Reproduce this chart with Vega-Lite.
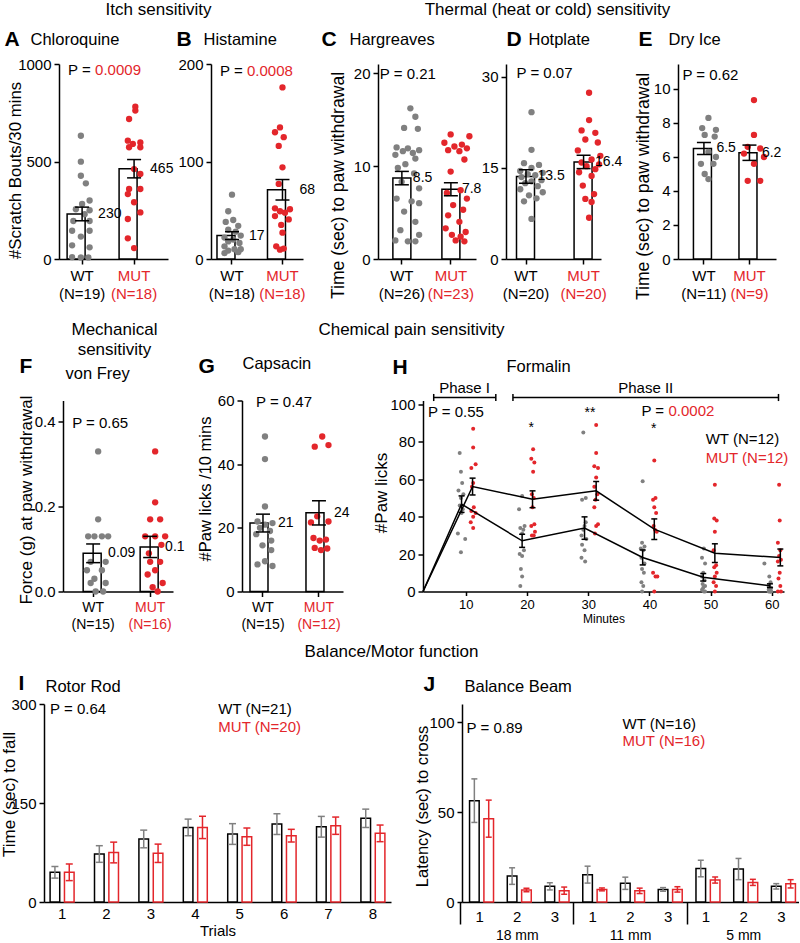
{
"$schema": "https://vega.github.io/schema/vega-lite/v6.json",
"background": "white",
"padding": 0,
"config": {
 "font": "Liberation Sans",
 "view": {"stroke": null},
 "axis": {"domainColor": "black", "domainWidth": 1.5, "tickColor": "black", "tickWidth": 1.5, "tickSize": 5, "labelColor": "black", "labelFontSize": 15, "titleFontSize": 17, "titleFontWeight": "normal", "titleColor": "black", "grid": false, "labelPadding": 3},
 "axisX": {"labelAngle": 0},
 "axisY": {"labelOverlap": false},
 "axisTop": {"labels": false, "ticks": false, "domain": false, "titleAngle": 0, "titleAlign": "left", "titleBaseline": "alphabetic", "titleFontSize": 16.5, "titlePadding": 0},
 "text": {"color": "black"}
},
"datasets": {
 "bars": [
  {"p":"A","g":"WT","mean":231,"sem":35,"lab":"230"},
  {"p":"A","g":"MUT","mean":463,"sem":47,"lab":"465"},
  {"p":"B","g":"WT","mean":24,"sem":4,"lab":"17"},
  {"p":"B","g":"MUT","mean":71,"sem":10.5,"lab":"68"},
  {"p":"C","g":"WT","mean":8.7,"sem":0.72,"lab":"8.5"},
  {"p":"C","g":"MUT","mean":7.5,"sem":0.7,"lab":"7.8"},
  {"p":"D","g":"WT","mean":13.6,"sem":1.1,"lab":"13.5"},
  {"p":"D","g":"MUT","mean":16.0,"sem":1.1,"lab":"16.4"},
  {"p":"E","g":"WT","mean":6.5,"sem":0.35,"lab":"6.5"},
  {"p":"E","g":"MUT","mean":6.25,"sem":0.45,"lab":"6.2"},
  {"p":"F","g":"WT","mean":0.09,"sem":0.022,"lab":"0.09"},
  {"p":"F","g":"MUT","mean":0.105,"sem":0.025,"lab":"0.1"},
  {"p":"G","g":"WT","mean":21.5,"sem":2.8,"lab":"21"},
  {"p":"G","g":"MUT","mean":24.7,"sem":3.8,"lab":"24"}
 ],
 "pts": [
  {"p":"A","g":"WT","v":632,"j":-0.1},{"p":"A","g":"WT","v":499,"j":-0.1},{"p":"A","g":"WT","v":427,"j":-0.1},{"p":"A","g":"WT","v":388,"j":0.3},{"p":"A","g":"WT","v":300,"j":0.6},{"p":"A","g":"WT","v":282,"j":0.0},{"p":"A","g":"WT","v":255,"j":-0.5},{"p":"A","g":"WT","v":250,"j":0.6},{"p":"A","g":"WT","v":230,"j":0.2},{"p":"A","g":"WT","v":195,"j":-0.7},{"p":"A","g":"WT","v":195,"j":0.6},{"p":"A","g":"WT","v":145,"j":-0.8},{"p":"A","g":"WT","v":145,"j":0.6},{"p":"A","g":"WT","v":115,"j":-0.1},{"p":"A","g":"WT","v":70,"j":-0.8},{"p":"A","g":"WT","v":60,"j":0.6},{"p":"A","g":"WT","v":10,"j":-0.8},{"p":"A","g":"WT","v":8,"j":-0.1},{"p":"A","g":"WT","v":8,"j":0.5},
  {"p":"A","g":"MUT","v":781,"j":0.1},{"p":"A","g":"MUT","v":761,"j":0.1},{"p":"A","g":"MUT","v":718,"j":-0.4},{"p":"A","g":"MUT","v":607,"j":-0.5},{"p":"A","g":"MUT","v":598,"j":0.5},{"p":"A","g":"MUT","v":590,"j":-0.1},{"p":"A","g":"MUT","v":573,"j":0.5},{"p":"A","g":"MUT","v":573,"j":-0.4},{"p":"A","g":"MUT","v":461,"j":0.0},{"p":"A","g":"MUT","v":436,"j":0.5},{"p":"A","g":"MUT","v":359,"j":0.5},{"p":"A","g":"MUT","v":359,"j":-0.4},{"p":"A","g":"MUT","v":333,"j":-0.5},{"p":"A","g":"MUT","v":291,"j":0.0},{"p":"A","g":"MUT","v":239,"j":0.5},{"p":"A","g":"MUT","v":205,"j":-0.5},{"p":"A","g":"MUT","v":106,"j":-0.5},{"p":"A","g":"MUT","v":56,"j":0.0},
  {"p":"B","g":"WT","v":66,"j":0},{"p":"B","g":"WT","v":49,"j":-0.3},{"p":"B","g":"WT","v":40,"j":0.1},{"p":"B","g":"WT","v":38,"j":-0.5},{"p":"B","g":"WT","v":34,"j":0.5},{"p":"B","g":"WT","v":30,"j":-0.3},{"p":"B","g":"WT","v":28,"j":0.3},{"p":"B","g":"WT","v":24,"j":0.7},{"p":"B","g":"WT","v":22,"j":-0.6},{"p":"B","g":"WT","v":20,"j":0.1},{"p":"B","g":"WT","v":18,"j":-0.3},{"p":"B","g":"WT","v":16.5,"j":0.6},{"p":"B","g":"WT","v":13,"j":-0.6},{"p":"B","g":"WT","v":10,"j":0.2},{"p":"B","g":"WT","v":8.6,"j":-0.3},{"p":"B","g":"WT","v":7,"j":0.5},{"p":"B","g":"WT","v":6,"j":-0.6},{"p":"B","g":"WT","v":10,"j":0.7},
  {"p":"B","g":"MUT","v":176,"j":0},{"p":"B","g":"MUT","v":135,"j":-0.2},{"p":"B","g":"MUT","v":130,"j":-0.6},{"p":"B","g":"MUT","v":125,"j":0.1},{"p":"B","g":"MUT","v":116,"j":-0.3},{"p":"B","g":"MUT","v":94,"j":0},{"p":"B","g":"MUT","v":77,"j":-0.3},{"p":"B","g":"MUT","v":52,"j":-0.6},{"p":"B","g":"MUT","v":51,"j":0.6},{"p":"B","g":"MUT","v":49,"j":-0.2},{"p":"B","g":"MUT","v":47.5,"j":0.2},{"p":"B","g":"MUT","v":44,"j":-0.6},{"p":"B","g":"MUT","v":40.6,"j":0.5},{"p":"B","g":"MUT","v":35,"j":-0.1},{"p":"B","g":"MUT","v":27,"j":0},{"p":"B","g":"MUT","v":13,"j":-0.5},{"p":"B","g":"MUT","v":10.7,"j":0.1},{"p":"B","g":"MUT","v":9.6,"j":-0.2},
  {"p":"C","g":"WT","v":16.2,"j":0.2},{"p":"C","g":"WT","v":15.3,"j":0.6},{"p":"C","g":"WT","v":14.1,"j":-0.3},{"p":"C","g":"WT","v":14.0,"j":0.8},{"p":"C","g":"WT","v":12.0,"j":-0.9},{"p":"C","g":"WT","v":11.9,"j":0.0},{"p":"C","g":"WT","v":11.7,"j":0.9},{"p":"C","g":"WT","v":11.6,"j":-0.4},{"p":"C","g":"WT","v":11.4,"j":0.4},{"p":"C","g":"WT","v":11.2,"j":-1.0},{"p":"C","g":"WT","v":10.8,"j":0.6},{"p":"C","g":"WT","v":10.2,"j":-0.2},{"p":"C","g":"WT","v":9.8,"j":-0.8},{"p":"C","g":"WT","v":9.2,"j":0.5},{"p":"C","g":"WT","v":8.3,"j":-0.5},{"p":"C","g":"WT","v":7.6,"j":0.9},{"p":"C","g":"WT","v":6.5,"j":-0.9},{"p":"C","g":"WT","v":6.2,"j":0.3},{"p":"C","g":"WT","v":6.0,"j":0.9},{"p":"C","g":"WT","v":5.1,"j":-0.3},{"p":"C","g":"WT","v":4.0,"j":0.6},{"p":"C","g":"WT","v":3.1,"j":-0.6},{"p":"C","g":"WT","v":2.6,"j":0.9},{"p":"C","g":"WT","v":2.0,"j":-1.0},{"p":"C","g":"WT","v":1.9,"j":0.0},{"p":"C","g":"WT","v":1.9,"j":0.6},
  {"p":"C","g":"MUT","v":13.4,"j":-0.5},{"p":"C","g":"MUT","v":13.2,"j":1.0},{"p":"C","g":"MUT","v":12.5,"j":-1.0},{"p":"C","g":"MUT","v":12.3,"j":0.4},{"p":"C","g":"MUT","v":12.1,"j":-0.2},{"p":"C","g":"MUT","v":11.9,"j":0.8},{"p":"C","g":"MUT","v":11.7,"j":-0.7},{"p":"C","g":"MUT","v":11.6,"j":0.2},{"p":"C","g":"MUT","v":10.7,"j":0.6},{"p":"C","g":"MUT","v":9.4,"j":-0.5},{"p":"C","g":"MUT","v":7.4,"j":0.3},{"p":"C","g":"MUT","v":7.1,"j":-0.8},{"p":"C","g":"MUT","v":6.5,"j":0.8},{"p":"C","g":"MUT","v":5.8,"j":-0.3},{"p":"C","g":"MUT","v":5.3,"j":0.5},{"p":"C","g":"MUT","v":4.7,"j":-0.7},{"p":"C","g":"MUT","v":4.0,"j":0.2},{"p":"C","g":"MUT","v":3.3,"j":-0.9},{"p":"C","g":"MUT","v":2.9,"j":0.7},{"p":"C","g":"MUT","v":2.6,"j":-0.4},{"p":"C","g":"MUT","v":2.4,"j":0.3},{"p":"C","g":"MUT","v":2.0,"j":-0.1},{"p":"C","g":"MUT","v":1.9,"j":0.6},
  {"p":"D","g":"WT","v":24.2,"j":0},{"p":"D","g":"WT","v":18.0,"j":0},{"p":"D","g":"WT","v":15.8,"j":-0.6},{"p":"D","g":"WT","v":15.5,"j":0.6},{"p":"D","g":"WT","v":15.0,"j":0},{"p":"D","g":"WT","v":14.5,"j":-0.9},{"p":"D","g":"WT","v":14.2,"j":0.9},{"p":"D","g":"WT","v":14.0,"j":-0.3},{"p":"D","g":"WT","v":13.8,"j":0.3},{"p":"D","g":"WT","v":13.5,"j":-0.8},{"p":"D","g":"WT","v":13.0,"j":0.8},{"p":"D","g":"WT","v":12.8,"j":0},{"p":"D","g":"WT","v":12.5,"j":-0.5},{"p":"D","g":"WT","v":12.0,"j":0.5},{"p":"D","g":"WT","v":11.5,"j":-0.9},{"p":"D","g":"WT","v":11.0,"j":0.9},{"p":"D","g":"WT","v":10.5,"j":-0.2},{"p":"D","g":"WT","v":10.0,"j":0.4},{"p":"D","g":"WT","v":9.5,"j":-0.6},{"p":"D","g":"WT","v":6.6,"j":0},
  {"p":"D","g":"MUT","v":27.4,"j":0},{"p":"D","g":"MUT","v":22.9,"j":0},{"p":"D","g":"MUT","v":21.2,"j":-0.6},{"p":"D","g":"MUT","v":20.8,"j":0.5},{"p":"D","g":"MUT","v":19.7,"j":-0.3},{"p":"D","g":"MUT","v":19.2,"j":0.7},{"p":"D","g":"MUT","v":17.9,"j":-0.9},{"p":"D","g":"MUT","v":17.0,"j":0.9},{"p":"D","g":"MUT","v":16.4,"j":0.2},{"p":"D","g":"MUT","v":15.9,"j":-0.6},{"p":"D","g":"MUT","v":15.6,"j":0.8},{"p":"D","g":"MUT","v":15.3,"j":-0.2},{"p":"D","g":"MUT","v":14.8,"j":0.5},{"p":"D","g":"MUT","v":14.3,"j":-0.8},{"p":"D","g":"MUT","v":13.7,"j":0.2},{"p":"D","g":"MUT","v":12.1,"j":-0.5},{"p":"D","g":"MUT","v":10.7,"j":0.4},{"p":"D","g":"MUT","v":9.9,"j":-0.3},{"p":"D","g":"MUT","v":9.4,"j":0.2},{"p":"D","g":"MUT","v":6.8,"j":0},
  {"p":"E","g":"WT","v":8.3,"j":0},{"p":"E","g":"WT","v":7.7,"j":-0.5},{"p":"E","g":"WT","v":7.6,"j":0.6},{"p":"E","g":"WT","v":7.3,"j":-0.3},{"p":"E","g":"WT","v":7.2,"j":0.5},{"p":"E","g":"WT","v":6.3,"j":0},{"p":"E","g":"WT","v":6.0,"j":0.6},{"p":"E","g":"WT","v":5.6,"j":-0.6},{"p":"E","g":"WT","v":5.6,"j":0.4},{"p":"E","g":"WT","v":5.0,"j":-0.3},{"p":"E","g":"WT","v":4.7,"j":0},
  {"p":"E","g":"MUT","v":9.35,"j":0},{"p":"E","g":"MUT","v":7.3,"j":0},{"p":"E","g":"MUT","v":6.6,"j":-0.5},{"p":"E","g":"MUT","v":6.5,"j":0.5},{"p":"E","g":"MUT","v":6.2,"j":-0.8},{"p":"E","g":"MUT","v":6.0,"j":0.8},{"p":"E","g":"MUT","v":5.6,"j":0},{"p":"E","g":"MUT","v":4.6,"j":-0.5},{"p":"E","g":"MUT","v":4.6,"j":0.5},
  {"p":"F","g":"WT","v":0.33,"j":0},{"p":"F","g":"WT","v":0.17,"j":0},{"p":"F","g":"WT","v":0.13,"j":-0.8},{"p":"F","g":"WT","v":0.13,"j":-0.3},{"p":"F","g":"WT","v":0.13,"j":0.3},{"p":"F","g":"WT","v":0.13,"j":0.8},{"p":"F","g":"WT","v":0.07,"j":-0.6},{"p":"F","g":"WT","v":0.07,"j":0.6},{"p":"F","g":"WT","v":0.05,"j":-0.9},{"p":"F","g":"WT","v":0.05,"j":0.3},{"p":"F","g":"WT","v":0.03,"j":-0.3},{"p":"F","g":"WT","v":0.02,"j":0.6},{"p":"F","g":"WT","v":0.02,"j":-0.6},{"p":"F","g":"WT","v":0.0,"j":-0.2},{"p":"F","g":"WT","v":0.0,"j":0.4},
  {"p":"F","g":"MUT","v":0.33,"j":0},{"p":"F","g":"MUT","v":0.21,"j":0},{"p":"F","g":"MUT","v":0.17,"j":-0.4},{"p":"F","g":"MUT","v":0.17,"j":0.4},{"p":"F","g":"MUT","v":0.13,"j":-0.8},{"p":"F","g":"MUT","v":0.13,"j":0},{"p":"F","g":"MUT","v":0.13,"j":0.8},{"p":"F","g":"MUT","v":0.11,"j":0.5},{"p":"F","g":"MUT","v":0.09,"j":-0.5},{"p":"F","g":"MUT","v":0.07,"j":-0.4},{"p":"F","g":"MUT","v":0.07,"j":0.4},{"p":"F","g":"MUT","v":0.05,"j":0},{"p":"F","g":"MUT","v":0.04,"j":-0.6},{"p":"F","g":"MUT","v":0.02,"j":0.6},{"p":"F","g":"MUT","v":0.01,"j":-0.2},{"p":"F","g":"MUT","v":0.0,"j":0.2},
  {"p":"G","g":"WT","v":48.7,"j":0},{"p":"G","g":"WT","v":41.6,"j":0},{"p":"G","g":"WT","v":26.7,"j":0},{"p":"G","g":"WT","v":22.0,"j":-0.6},{"p":"G","g":"WT","v":21.5,"j":0.6},{"p":"G","g":"WT","v":21.0,"j":0},{"p":"G","g":"WT","v":20.0,"j":-0.4},{"p":"G","g":"WT","v":19.0,"j":0.4},{"p":"G","g":"WT","v":18.0,"j":-0.7},{"p":"G","g":"WT","v":16.0,"j":0.5},{"p":"G","g":"WT","v":14.5,"j":-0.2},{"p":"G","g":"WT","v":13.0,"j":0.5},{"p":"G","g":"WT","v":9.5,"j":0},{"p":"G","g":"WT","v":8.5,"j":-0.6},{"p":"G","g":"WT","v":8.0,"j":0.6},
  {"p":"G","g":"MUT","v":48.7,"j":0.1},{"p":"G","g":"MUT","v":46.0,"j":0.6},{"p":"G","g":"MUT","v":45.5,"j":-0.5},{"p":"G","g":"MUT","v":23.6,"j":-0.3},{"p":"G","g":"MUT","v":22.0,"j":0.6},{"p":"G","g":"MUT","v":21.7,"j":-0.8},{"p":"G","g":"MUT","v":16.8,"j":-0.6},{"p":"G","g":"MUT","v":16.3,"j":0.4},{"p":"G","g":"MUT","v":16.0,"j":-0.1},{"p":"G","g":"MUT","v":13.7,"j":-0.5},{"p":"G","g":"MUT","v":13.5,"j":0.5},{"p":"G","g":"MUT","v":13.0,"j":0}
 ],
 "hpts": [
  {"g":"WT","v":74,"m":9.0},{"g":"WT","v":64,"m":9.2},{"g":"WT","v":58,"m":9.4},{"g":"WT","v":54,"m":8.8},{"g":"WT","v":52,"m":9.6},{"g":"WT","v":50,"m":9.2},{"g":"WT","v":46,"m":9.0},{"g":"WT","v":44,"m":9.5},{"g":"WT","v":42,"m":9.3},{"g":"WT","v":31,"m":8.7},{"g":"WT","v":28,"m":9.9},{"g":"WT","v":21,"m":9.2},
  {"g":"MUT","v":87,"m":11.2},{"g":"MUT","v":77,"m":11.2},{"g":"MUT","v":68,"m":11.6},{"g":"MUT","v":66,"m":10.9},{"g":"MUT","v":58,"m":11.2},{"g":"MUT","v":56,"m":11.0},{"g":"MUT","v":45,"m":11.3},{"g":"MUT","v":43,"m":10.9},{"g":"MUT","v":42,"m":11.6},{"g":"MUT","v":40,"m":11.2},{"g":"MUT","v":37,"m":10.8},{"g":"MUT","v":34,"m":11.2},
  {"g":"WT","v":51,"m":19.2},{"g":"WT","v":44,"m":18.7},{"g":"WT","v":35,"m":19.6},{"g":"WT","v":34,"m":18.9},{"g":"WT","v":33,"m":19.4},{"g":"WT","v":31,"m":19.2},{"g":"WT","v":22,"m":19.5},{"g":"WT","v":20,"m":18.8},{"g":"WT","v":19,"m":19.2},{"g":"WT","v":12,"m":19.0},{"g":"WT","v":8,"m":19.2},{"g":"WT","v":3,"m":18.9},
  {"g":"MUT","v":76,"m":21.0},{"g":"MUT","v":71,"m":20.7},{"g":"MUT","v":69,"m":21.2},{"g":"MUT","v":64,"m":21.0},{"g":"MUT","v":52,"m":20.8},{"g":"MUT","v":50,"m":21.1},{"g":"MUT","v":45,"m":20.9},{"g":"MUT","v":36,"m":21.2},{"g":"MUT","v":35,"m":20.7},{"g":"MUT","v":32,"m":21.3},{"g":"MUT","v":30,"m":20.8},{"g":"MUT","v":30,"m":21.1},
  {"g":"WT","v":85,"m":29.2},{"g":"WT","v":50,"m":29.6},{"g":"WT","v":49,"m":29.0},{"g":"WT","v":37,"m":29.6},{"g":"WT","v":35,"m":29.4},{"g":"WT","v":33,"m":29.2},{"g":"WT","v":30,"m":28.9},{"g":"WT","v":28,"m":29.7},{"g":"WT","v":25,"m":29.0},{"g":"WT","v":22,"m":29.4},{"g":"WT","v":18,"m":28.9},{"g":"WT","v":16,"m":29.5},
  {"g":"MUT","v":89,"m":31.3},{"g":"MUT","v":74,"m":31.3},{"g":"MUT","v":67,"m":31.0},{"g":"MUT","v":66,"m":31.6},{"g":"MUT","v":61,"m":31.3},{"g":"MUT","v":56,"m":31.0},{"g":"MUT","v":52,"m":31.5},{"g":"MUT","v":49,"m":31.2},{"g":"MUT","v":45,"m":31.0},{"g":"MUT","v":36,"m":31.6},{"g":"MUT","v":35,"m":31.3},{"g":"MUT","v":31,"m":31.1},
  {"g":"WT","v":59,"m":38.9},{"g":"WT","v":26,"m":38.8},{"g":"WT","v":24,"m":39.2},{"g":"WT","v":23,"m":38.6},{"g":"WT","v":22,"m":39.0},{"g":"WT","v":18,"m":38.7},{"g":"WT","v":15,"m":39.2},{"g":"WT","v":12,"m":38.8},{"g":"WT","v":10,"m":39.1},{"g":"WT","v":5,"m":38.7},{"g":"WT","v":3,"m":39.0},{"g":"WT","v":0,"m":38.8},
  {"g":"MUT","v":70,"m":40.8},{"g":"MUT","v":50,"m":41.0},{"g":"MUT","v":49,"m":40.6},{"g":"MUT","v":45,"m":40.8},{"g":"MUT","v":42,"m":41.1},{"g":"MUT","v":35,"m":40.7},{"g":"MUT","v":33,"m":40.9},{"g":"MUT","v":32,"m":41.2},{"g":"MUT","v":10,"m":40.6},{"g":"MUT","v":8,"m":41.0},{"g":"MUT","v":8,"m":41.3},{"g":"MUT","v":0,"m":40.8},
  {"g":"WT","v":23,"m":48.9},{"g":"WT","v":18,"m":48.6},{"g":"WT","v":15,"m":49.1},{"g":"WT","v":10,"m":48.8},{"g":"WT","v":8,"m":48.6},{"g":"WT","v":6,"m":49.0},{"g":"WT","v":4,"m":48.7},{"g":"WT","v":3,"m":49.1},{"g":"WT","v":2,"m":48.8},{"g":"WT","v":1,"m":48.6},{"g":"WT","v":0,"m":48.9},{"g":"WT","v":0,"m":49.1},
  {"g":"MUT","v":57,"m":50.7},{"g":"MUT","v":39,"m":50.6},{"g":"MUT","v":38,"m":51.0},{"g":"MUT","v":32,"m":50.7},{"g":"MUT","v":22,"m":50.5},{"g":"MUT","v":14,"m":50.9},{"g":"MUT","v":13,"m":50.6},{"g":"MUT","v":10,"m":51.0},{"g":"MUT","v":8,"m":50.7},{"g":"MUT","v":5,"m":50.5},{"g":"MUT","v":3,"m":50.9},{"g":"MUT","v":0,"m":50.7},
  {"g":"WT","v":15,"m":58.8},{"g":"WT","v":8,"m":59.6},{"g":"WT","v":5,"m":59.8},{"g":"WT","v":3,"m":59.5},{"g":"WT","v":2,"m":59.9},{"g":"WT","v":2,"m":59.6},{"g":"WT","v":1,"m":59.8},{"g":"WT","v":1,"m":59.5},{"g":"WT","v":0,"m":59.7},{"g":"WT","v":0,"m":59.9},{"g":"WT","v":0,"m":59.5},{"g":"WT","v":0,"m":59.8},
  {"g":"MUT","v":57,"m":61.2},{"g":"MUT","v":38,"m":61.3},{"g":"MUT","v":26,"m":61.0},{"g":"MUT","v":22,"m":61.4},{"g":"MUT","v":19,"m":61.2},{"g":"MUT","v":17,"m":61.5},{"g":"MUT","v":16,"m":61.0},{"g":"MUT","v":10,"m":61.3},{"g":"MUT","v":7,"m":61.1},{"g":"MUT","v":3,"m":61.4},{"g":"MUT","v":0,"m":61.0},{"g":"MUT","v":0,"m":61.5}
 ],
 "hm": [
  {"g":"WT","m":3,"mean":0,"sem":null},{"g":"WT","m":9.3,"mean":46.7,"sem":4.4},{"g":"WT","m":19.2,"mean":27.1,"sem":3.5},{"g":"WT","m":29.4,"mean":33.9,"sem":6},{"g":"WT","m":38.9,"mean":18.2,"sem":4},{"g":"WT","m":48.8,"mean":7.6,"sem":2},{"g":"WT","m":59.7,"mean":3.1,"sem":1},
  {"g":"MUT","m":3,"mean":0,"sem":null},{"g":"MUT","m":11.1,"mean":56.1,"sem":4.5},{"g":"MUT","m":20.9,"mean":49.3,"sem":4.5},{"g":"MUT","m":31.3,"mean":53.8,"sem":5},{"g":"MUT","m":40.8,"mean":33.3,"sem":5.5},{"g":"MUT","m":50.7,"mean":20.5,"sem":5},{"g":"MUT","m":61.4,"mean":18.2,"sem":4.5}
 ],
 "ibars": [
  {"t":"1","g":"WT","mean":45,"sem":8.8},{"t":"1","g":"MUT","mean":45,"sem":12.6},
  {"t":"2","g":"WT","mean":72.7,"sem":12.6},{"t":"2","g":"MUT","mean":75,"sem":15.7},
  {"t":"3","g":"WT","mean":95.5,"sem":13.4},{"t":"3","g":"MUT","mean":73.8,"sem":13.9},
  {"t":"4","g":"WT","mean":113,"sem":12.6},{"t":"4","g":"MUT","mean":113,"sem":16.9},
  {"t":"5","g":"WT","mean":103,"sem":15.7},{"t":"5","g":"MUT","mean":99,"sem":13.1},
  {"t":"6","g":"WT","mean":118,"sem":15.7},{"t":"6","g":"MUT","mean":100.5,"sem":9.6},
  {"t":"7","g":"WT","mean":114,"sem":15.7},{"t":"7","g":"MUT","mean":115.6,"sem":13.1},
  {"t":"8","g":"WT","mean":126.8,"sem":13.9},{"t":"8","g":"MUT","mean":104,"sem":12.6}
 ],
 "jbars": [
  {"k":"18 mm|1","g":"WT","mean":56.3,"sem":12.1},{"k":"18 mm|1","g":"MUT","mean":46.3,"sem":10.3},
  {"k":"18 mm|2","g":"WT","mean":14.4,"sem":4.6},{"k":"18 mm|2","g":"MUT","mean":6.7,"sem":1},
  {"k":"18 mm|3","g":"WT","mean":8.7,"sem":2},{"k":"18 mm|3","g":"MUT","mean":6.3,"sem":2},
  {"k":"11 mm|1","g":"WT","mean":15.2,"sem":4.7},{"k":"11 mm|1","g":"MUT","mean":7.0,"sem":0.8},
  {"k":"11 mm|2","g":"WT","mean":10.4,"sem":3.4},{"k":"11 mm|2","g":"MUT","mean":6.2,"sem":1.5},
  {"k":"11 mm|3","g":"WT","mean":7.0,"sem":1},{"k":"11 mm|3","g":"MUT","mean":7.0,"sem":1.5},
  {"k":"5 mm|1","g":"WT","mean":18.6,"sem":4.6},{"k":"5 mm|1","g":"MUT","mean":12.2,"sem":1.7},
  {"k":"5 mm|2","g":"WT","mean":18.3,"sem":5.9},{"k":"5 mm|2","g":"MUT","mean":10.9,"sem":1.7},
  {"k":"5 mm|3","g":"WT","mean":8.7,"sem":1.5},{"k":"5 mm|3","g":"MUT","mean":10.1,"sem":2.3}
 ]
},
"spacing": 10,
"vconcat": [
 {"spacing": 18.5, "vconcat": [
  {"bounds": "flush", "spacing": 0, "hconcat": [
   {"width": 15, "height": 1, "data": {"values": []}, "mark": "point"},
   {"width": 109, "height": 195, "resolve": {"axis": {"x": "independent"}},
    "layer": [
     {"data": {"name": "bars"}, "transform": [{"filter": "datum.p == 'A'"}],
      "mark": {"type": "bar", "fill": "white", "stroke": "black", "strokeWidth": 1.5},
      "encoding": {
       "x": {"field": "g", "type": "nominal", "scale": {"domain": ["WT","MUT"], "paddingInner": 0.423, "paddingOuter": 0.26, "align": 0.3},
             "axis": {"orient": "bottom", "title": null, "labelPadding": 4, "labelLineHeight": 18, "labelExpr": "datum.value == 'WT' ? ['WT', '(N=19)'] : ['MUT', '(N=18)']", "labelColor": {"condition": {"test": "datum.value == 'MUT'", "value": "#e3262b"}, "value": "black"}}},
       "y": {"field": "mean", "type": "quantitative", "title": "#Scratch Bouts/30 mins", "scale": {"domain": [0, 1000]},
             "axis": {"values": [0, 500, 1000], "format": "d", "labelOverlap": false, "titleFontSize": 16.8, "titleX": -44, "titleY": 106, "titleBaseline": "middle"}}}},
     {"data": {"name": "pts"}, "transform": [{"filter": "datum.p == 'A'"}],
      "mark": {"type": "circle", "size": 40, "opacity": 1},
      "encoding": {"x": {"field": "g", "type": "nominal", "axis": {"orient": "top", "title": "A", "titleX": -55, "titleY": -19, "titleFontSize": 21, "titleFontWeight": "bold"}},
       "xOffset": {"field": "j", "type": "quantitative", "scale": {"domain": [-1.2, 1.2]}},
       "y": {"field": "v", "type": "quantitative", "title": "#Scratch Bouts/30 mins"},
       "color": {"field": "g", "type": "nominal", "scale": {"domain": ["WT","MUT"], "range": ["#808080", "#e3262b"]}, "legend": null}}},
     {"data": {"name": "bars"}, "transform": [{"filter": "datum.p == 'A'"}],
      "mark": {"type": "errorbar", "ticks": true, "size": 14, "thickness": 1.5, "color": "black", "opacity": 1},
      "encoding": {"x": {"field": "g", "type": "nominal", "axis": {"orient": "top", "title": "Chloroquine", "titleX": -29, "titleY": -20}},
       "y": {"field": "mean", "type": "quantitative", "title": "#Scratch Bouts/30 mins"}, "yError": {"field": "sem"}}},
     {"data": {"name": "bars"}, "transform": [{"filter": "datum.p == 'A'"}],
      "mark": {"type": "text", "align": "left", "baseline": "middle", "dx": 1, "fontSize": 14},
      "encoding": {"x": {"field": "g", "type": "nominal", "bandPosition": 1, "axis": {"orient": "top", "title": "Itch sensitivity", "titleX": 99, "titleY": -49.5, "titleAlign": "center", "titleFontSize": 17}},
       "y": {"field": "mean", "type": "quantitative", "title": "#Scratch Bouts/30 mins"}, "text": {"field": "lab"}}},
     {"data": {"values": [{"g": "WT"}]}, "mark": {"type": "text", "align": "left", "baseline": "middle", "dx": 1, "fontSize": 15},
      "encoding": {"x": {"field": "g", "type": "nominal", "bandPosition": 0, "axis": null}, "y": {"datum": 967, "type": "quantitative", "title": "#Scratch Bouts/30 mins"}, "text": {"value": "P = "}}},
     {"data": {"values": [{"g": "WT"}]}, "mark": {"type": "text", "align": "left", "baseline": "middle", "dx": 28, "fontSize": 15, "color": "#e3262b"},
      "encoding": {"x": {"field": "g", "type": "nominal", "bandPosition": 0, "axis": null}, "y": {"datum": 967, "type": "quantitative", "title": "#Scratch Bouts/30 mins"}, "text": {"value": "0.0009"}}}
    ]},
   {"width": 43, "height": 1, "data": {"values": []}, "mark": "point"},
   {"width": 92, "height": 195, "resolve": {"axis": {"x": "independent"}},
    "layer": [
     {"data": {"name": "bars"}, "transform": [{"filter": "datum.p == 'B'"}],
      "mark": {"type": "bar", "fill": "white", "stroke": "black", "strokeWidth": 1.5},
      "encoding": {
       "x": {"field": "g", "type": "nominal", "scale": {"domain": ["WT","MUT"], "paddingInner": 0.406, "paddingOuter": 0.114, "align": 0.52},
             "axis": {"orient": "bottom", "title": null, "labelPadding": 4, "labelLineHeight": 18, "labelExpr": "datum.value == 'WT' ? ['WT', '(N=18)'] : ['MUT', '(N=18)']", "labelColor": {"condition": {"test": "datum.value == 'MUT'", "value": "#e3262b"}, "value": "black"}}},
       "y": {"field": "mean", "type": "quantitative", "title": null, "scale": {"domain": [0, 200]}, "axis": {"values": [0, 100, 200], "labelOverlap": false}}}},
     {"data": {"name": "pts"}, "transform": [{"filter": "datum.p == 'B'"}],
      "mark": {"type": "circle", "size": 40, "opacity": 1},
      "encoding": {"x": {"field": "g", "type": "nominal", "axis": {"orient": "top", "title": "B", "titleX": -35, "titleY": -19, "titleFontSize": 21, "titleFontWeight": "bold"}},
       "xOffset": {"field": "j", "type": "quantitative", "scale": {"domain": [-1.2, 1.2]}},
       "y": {"field": "v", "type": "quantitative", "title": null},
       "color": {"field": "g", "type": "nominal", "scale": {"domain": ["WT","MUT"], "range": ["#808080", "#e3262b"]}, "legend": null}}},
     {"data": {"name": "bars"}, "transform": [{"filter": "datum.p == 'B'"}],
      "mark": {"type": "errorbar", "ticks": true, "size": 14, "thickness": 1.5, "color": "black", "opacity": 1},
      "encoding": {"x": {"field": "g", "type": "nominal", "axis": {"orient": "top", "title": "Histamine", "titleX": -8, "titleY": -20}},
       "y": {"field": "mean", "type": "quantitative", "title": null}, "yError": {"field": "sem"}}},
     {"data": {"name": "bars"}, "transform": [{"filter": "datum.p == 'B'"}],
      "mark": {"type": "text", "align": "left", "baseline": "middle", "dx": 2, "fontSize": 14},
      "encoding": {"x": {"field": "g", "type": "nominal", "bandPosition": 1, "axis": null},
       "y": {"field": "mean", "type": "quantitative", "title": null}, "text": {"field": "lab"}}},
     {"data": {"values": [{"g": "WT"}]}, "mark": {"type": "text", "align": "left", "baseline": "middle", "dx": 3, "fontSize": 15},
      "encoding": {"x": {"field": "g", "type": "nominal", "bandPosition": 0, "axis": null}, "y": {"datum": 192.8, "type": "quantitative", "title": null}, "text": {"value": "P = "}}},
     {"data": {"values": [{"g": "WT"}]}, "mark": {"type": "text", "align": "left", "baseline": "middle", "dx": 30, "fontSize": 15, "color": "#e3262b"},
      "encoding": {"x": {"field": "g", "type": "nominal", "bandPosition": 0, "axis": null}, "y": {"datum": 192.8, "type": "quantitative", "title": null}, "text": {"value": "0.0008"}}}
    ]},
   {"width": 75, "height": 1, "data": {"values": []}, "mark": "point"},
   {"width": 98, "height": 195, "resolve": {"axis": {"x": "independent"}},
    "layer": [
     {"data": {"name": "bars"}, "transform": [{"filter": "datum.p == 'C'"}],
      "mark": {"type": "bar", "fill": "white", "stroke": "black", "strokeWidth": 1.5},
      "encoding": {
       "x": {"field": "g", "type": "nominal", "scale": {"domain": ["WT","MUT"], "paddingInner": 0.633, "paddingOuter": 0.316, "align": 0.48},
             "axis": {"orient": "bottom", "title": null, "labelPadding": 4, "labelLineHeight": 18, "labelExpr": "datum.value == 'WT' ? ['WT', '(N=26)'] : ['MUT', '(N=23)']", "labelColor": {"condition": {"test": "datum.value == 'MUT'", "value": "#e3262b"}, "value": "black"}}},
       "y": {"field": "mean", "type": "quantitative", "title": "Time (sec) to paw withdrawal", "scale": {"domain": [0, 20.97]},
             "axis": {"values": [0, 10, 20], "labelOverlap": false, "titleFontSize": 17.6, "titleX": -40, "titleY": 121, "titleBaseline": "middle"}}}},
     {"data": {"name": "pts"}, "transform": [{"filter": "datum.p == 'C'"}],
      "mark": {"type": "circle", "size": 40, "opacity": 1},
      "encoding": {"x": {"field": "g", "type": "nominal", "axis": {"orient": "top", "title": "C", "titleX": -57, "titleY": -19, "titleFontSize": 21, "titleFontWeight": "bold"}},
       "xOffset": {"field": "j", "type": "quantitative", "scale": {"domain": [-0.75, 0.75]}},
       "y": {"field": "v", "type": "quantitative", "title": "Time (sec) to paw withdrawal", "scale": {"domain": [0, 20.97]},
             "axis": {"values": [0, 10, 20], "labelOverlap": false, "titleFontSize": 17.6, "titleX": -40, "titleY": 121, "titleBaseline": "middle"}},
       "color": {"field": "g", "type": "nominal", "scale": {"domain": ["WT","MUT"], "range": ["#808080", "#e3262b"]}, "legend": null}}},
     {"data": {"name": "bars"}, "transform": [{"filter": "datum.p == 'C'"}],
      "mark": {"type": "errorbar", "ticks": true, "size": 14, "thickness": 1.5, "color": "black", "opacity": 1},
      "encoding": {"x": {"field": "g", "type": "nominal", "axis": {"orient": "top", "title": "Hargreaves", "titleX": -29, "titleY": -20}},
       "y": {"field": "mean", "type": "quantitative", "title": "Time (sec) to paw withdrawal", "scale": {"domain": [0, 20.97]},
             "axis": {"values": [0, 10, 20], "labelOverlap": false, "titleFontSize": 17.6, "titleX": -40, "titleY": 121, "titleBaseline": "middle"}}, "yError": {"field": "sem"}}},
     {"data": {"name": "bars"}, "transform": [{"filter": "datum.p == 'C'"}],
      "mark": {"type": "text", "align": "left", "baseline": "middle", "dx": 2, "fontSize": 14},
      "encoding": {"x": {"field": "g", "type": "nominal", "bandPosition": 1, "axis": {"orient": "top", "title": "Thermal (heat or cold) sensitivity", "titleX": 169, "titleY": -49.5, "titleAlign": "center", "titleFontSize": 17}},
       "y": {"field": "mean", "type": "quantitative", "title": "Time (sec) to paw withdrawal", "scale": {"domain": [0, 20.97]},
             "axis": {"values": [0, 10, 20], "labelOverlap": false, "titleFontSize": 17.6, "titleX": -40, "titleY": 121, "titleBaseline": "middle"}}, "text": {"field": "lab"}}},
     {"data": {"values": [{"g": "WT"}]}, "mark": {"type": "text", "align": "left", "baseline": "middle", "dx": -13, "fontSize": 15},
      "encoding": {"x": {"field": "g", "type": "nominal", "bandPosition": 0, "axis": null}, "y": {"datum": 19.85, "type": "quantitative", "title": "Time (sec) to paw withdrawal", "scale": {"domain": [0, 20.97]},
             "axis": {"values": [0, 10, 20], "labelOverlap": false, "titleFontSize": 17.6, "titleX": -40, "titleY": 121, "titleBaseline": "middle"}}, "text": {"value": "P = 0.21"}}}
    ]},
   {"width": 30, "height": 1, "data": {"values": []}, "mark": "point"},
   {"width": 95, "height": 195, "resolve": {"axis": {"x": "independent"}},
    "layer": [
     {"data": {"name": "bars"}, "transform": [{"filter": "datum.p == 'D'"}],
      "mark": {"type": "bar", "fill": "white", "stroke": "black", "strokeWidth": 1.5},
      "encoding": {
       "x": {"field": "g", "type": "nominal", "scale": {"domain": ["WT","MUT"], "paddingInner": 0.67, "paddingOuter": 0.16, "align": 0.57},
             "axis": {"orient": "bottom", "title": null, "labelPadding": 4, "labelLineHeight": 18, "labelExpr": "datum.value == 'WT' ? ['WT', '(N=20)'] : ['MUT', '(N=20)']", "labelColor": {"condition": {"test": "datum.value == 'MUT'", "value": "#e3262b"}, "value": "black"}}},
       "y": {"field": "mean", "type": "quantitative", "title": null, "scale": {"domain": [0, 32.14]}, "axis": {"values": [0, 15, 30], "labelOverlap": false}}}},
     {"data": {"name": "pts"}, "transform": [{"filter": "datum.p == 'D'"}],
      "mark": {"type": "circle", "size": 40, "opacity": 1},
      "encoding": {"x": {"field": "g", "type": "nominal", "axis": {"orient": "top", "title": "D", "titleX": 0, "titleY": -19, "titleFontSize": 21, "titleFontWeight": "bold"}},
       "xOffset": {"field": "j", "type": "quantitative", "scale": {"domain": [-0.8, 0.8]}},
       "y": {"field": "v", "type": "quantitative", "title": null, "scale": {"domain": [0, 32.14]}, "axis": {"values": [0, 15, 30], "labelOverlap": false}},
       "color": {"field": "g", "type": "nominal", "scale": {"domain": ["WT","MUT"], "range": ["#808080", "#e3262b"]}, "legend": null}}},
     {"data": {"name": "bars"}, "transform": [{"filter": "datum.p == 'D'"}],
      "mark": {"type": "errorbar", "ticks": true, "size": 14, "thickness": 1.5, "color": "black", "opacity": 1},
      "encoding": {"x": {"field": "g", "type": "nominal", "axis": {"orient": "top", "title": "Hotplate", "titleX": 22, "titleY": -20}},
       "y": {"field": "mean", "type": "quantitative", "title": null, "scale": {"domain": [0, 32.14]}, "axis": {"values": [0, 15, 30], "labelOverlap": false}}, "yError": {"field": "sem"}}},
     {"data": {"name": "bars"}, "transform": [{"filter": "datum.p == 'D'"}],
      "mark": {"type": "text", "align": "left", "baseline": "middle", "dx": 2, "fontSize": 14},
      "encoding": {"x": {"field": "g", "type": "nominal", "bandPosition": 1, "axis": null},
       "y": {"field": "mean", "type": "quantitative", "title": null, "scale": {"domain": [0, 32.14]}, "axis": {"values": [0, 15, 30], "labelOverlap": false}}, "text": {"field": "lab"}}},
     {"data": {"values": [{"g": "WT"}]}, "mark": {"type": "text", "align": "left", "baseline": "middle", "dx": 0, "fontSize": 15},
      "encoding": {"x": {"field": "g", "type": "nominal", "bandPosition": 0, "axis": null}, "y": {"datum": 30.6, "type": "quantitative", "title": null, "scale": {"domain": [0, 32.14]}, "axis": {"values": [0, 15, 30], "labelOverlap": false}}, "text": {"value": "P = 0.07"}}}
    ]},
   {"width": 77, "height": 1, "data": {"values": []}, "mark": "point"},
   {"width": 98, "height": 195, "resolve": {"axis": {"x": "independent"}},
    "layer": [
     {"data": {"name": "bars"}, "transform": [{"filter": "datum.p == 'E'"}],
      "mark": {"type": "bar", "fill": "white", "stroke": "black", "strokeWidth": 1.5},
      "encoding": {
       "x": {"field": "g", "type": "nominal", "scale": {"domain": ["WT","MUT"], "paddingInner": 0.54, "paddingOuter": 0.346, "align": 0.49},
             "axis": {"orient": "bottom", "title": null, "labelPadding": 4, "labelLineHeight": 18, "labelExpr": "datum.value == 'WT' ? ['WT', '(N=11)'] : ['MUT', '(N=9)']", "labelColor": {"condition": {"test": "datum.value == 'MUT'", "value": "#e3262b"}, "value": "black"}}},
       "y": {"field": "mean", "type": "quantitative", "title": "Time (sec) to paw withdrawal", "scale": {"domain": [0, 11.47]},
             "axis": {"values": [0, 2, 4, 6, 8, 10], "labelOverlap": false, "titleFontSize": 17.6, "titleX": -35, "titleY": 122, "titleBaseline": "middle"}}}},
     {"data": {"name": "pts"}, "transform": [{"filter": "datum.p == 'E'"}],
      "mark": {"type": "circle", "size": 40, "opacity": 1},
      "encoding": {"x": {"field": "g", "type": "nominal", "axis": {"orient": "top", "title": "E", "titleX": -40, "titleY": -19, "titleFontSize": 21, "titleFontWeight": "bold"}},
       "xOffset": {"field": "j", "type": "quantitative", "scale": {"domain": [-1.05, 1.05]}},
       "y": {"field": "v", "type": "quantitative", "title": "Time (sec) to paw withdrawal", "scale": {"domain": [0, 11.47]},
             "axis": {"values": [0, 2, 4, 6, 8, 10], "labelOverlap": false, "titleFontSize": 17.6, "titleX": -35, "titleY": 122, "titleBaseline": "middle"}},
       "color": {"field": "g", "type": "nominal", "scale": {"domain": ["WT","MUT"], "range": ["#808080", "#e3262b"]}, "legend": null}}},
     {"data": {"name": "bars"}, "transform": [{"filter": "datum.p == 'E'"}],
      "mark": {"type": "errorbar", "ticks": true, "size": 14, "thickness": 1.5, "color": "black", "opacity": 1},
      "encoding": {"x": {"field": "g", "type": "nominal", "axis": {"orient": "top", "title": "Dry Ice", "titleX": -10, "titleY": -20}},
       "y": {"field": "mean", "type": "quantitative", "title": "Time (sec) to paw withdrawal", "scale": {"domain": [0, 11.47]},
             "axis": {"values": [0, 2, 4, 6, 8, 10], "labelOverlap": false, "titleFontSize": 17.6, "titleX": -35, "titleY": 122, "titleBaseline": "middle"}}, "yError": {"field": "sem"}}},
     {"data": {"name": "bars"}, "transform": [{"filter": "datum.p == 'E'"}],
      "mark": {"type": "text", "align": "left", "baseline": "middle", "dx": 2, "fontSize": 14},
      "encoding": {"x": {"field": "g", "type": "nominal", "bandPosition": 1, "axis": null},
       "y": {"field": "mean", "type": "quantitative", "title": "Time (sec) to paw withdrawal", "scale": {"domain": [0, 11.47]},
             "axis": {"values": [0, 2, 4, 6, 8, 10], "labelOverlap": false, "titleFontSize": 17.6, "titleX": -35, "titleY": 122, "titleBaseline": "middle"}}, "text": {"field": "lab"}}},
     {"data": {"values": [{"g": "WT"}]}, "mark": {"type": "text", "align": "left", "baseline": "middle", "dx": -11, "fontSize": 15},
      "encoding": {"x": {"field": "g", "type": "nominal", "bandPosition": 0, "axis": null}, "y": {"datum": 10.85, "type": "quantitative", "title": "Time (sec) to paw withdrawal", "scale": {"domain": [0, 11.47]},
             "axis": {"values": [0, 2, 4, 6, 8, 10], "labelOverlap": false, "titleFontSize": 17.6, "titleX": -35, "titleY": 122, "titleBaseline": "middle"}}, "text": {"value": "P = 0.62"}}}
    ]}
  ]},
  {"bounds": "flush", "spacing": 0, "hconcat": [
   {"width": 19, "height": 1, "data": {"values": []}, "mark": "point"},
   {"width": 110, "height": 191, "resolve": {"axis": {"x": "independent"}},
    "layer": [
     {"data": {"name": "bars"}, "transform": [{"filter": "datum.p == 'F'"}],
      "mark": {"type": "bar", "fill": "white", "stroke": "black", "strokeWidth": 1.5},
      "encoding": {
       "x": {"field": "g", "type": "nominal", "scale": {"domain": ["WT","MUT"], "paddingInner": 0.65, "paddingOuter": 0.29, "align": 0.61},
             "axis": {"orient": "bottom", "title": null, "labelPadding": 4, "labelFontSize": 14, "labelLineHeight": 17, "labelExpr": "datum.value == 'WT' ? ['WT', '(N=15)'] : ['MUT', '(N=16)']", "labelColor": {"condition": {"test": "datum.value == 'MUT'", "value": "#e3262b"}, "value": "black"}}},
       "y": {"field": "mean", "type": "quantitative", "title": "Force (g) at paw withdrawal", "scale": {"domain": [0, 0.4021]},
             "axis": {"values": [0, 0.2, 0.4], "format": ".1f", "labelOverlap": false, "titleFontSize": 17, "titleX": -37, "titleY": 99, "titleBaseline": "middle"}}}},
     {"data": {"name": "pts"}, "transform": [{"filter": "datum.p == 'F'"}],
      "mark": {"type": "circle", "size": 40, "opacity": 1},
      "encoding": {"x": {"field": "g", "type": "nominal", "axis": {"orient": "top", "title": "F", "titleX": -44, "titleY": -28, "titleFontSize": 21, "titleFontWeight": "bold"}},
       "xOffset": {"field": "j", "type": "quantitative", "scale": {"domain": [-1, 1]}},
       "y": {"field": "v", "type": "quantitative", "title": "Force (g) at paw withdrawal"},
       "color": {"field": "g", "type": "nominal", "scale": {"domain": ["WT","MUT"], "range": ["#808080", "#e3262b"]}, "legend": null}}},
     {"data": {"name": "bars"}, "transform": [{"filter": "datum.p == 'F'"}],
      "mark": {"type": "errorbar", "ticks": true, "size": 14, "thickness": 1.5, "color": "black", "opacity": 1},
      "encoding": {"x": {"field": "g", "type": "nominal", "axis": {"orient": "top", "title": "von Frey", "titleX": 2, "titleY": -22.5}},
       "y": {"field": "mean", "type": "quantitative", "title": "Force (g) at paw withdrawal"}, "yError": {"field": "sem"}}},
     {"data": {"name": "bars"}, "transform": [{"filter": "datum.p == 'F'"}],
      "mark": {"type": "text", "align": "left", "baseline": "middle", "dx": 5, "fontSize": 14},
      "encoding": {"x": {"field": "g", "type": "nominal", "bandPosition": 1, "axis": {"orient": "top", "title": "Mechanical", "titleX": 51, "titleY": -65.6, "titleAlign": "center", "titleFontSize": 17}},
       "y": {"field": "mean", "type": "quantitative", "title": "Force (g) at paw withdrawal"}, "text": {"field": "lab"}}},
     {"data": {"values": [{"g": "WT"}]}, "mark": {"type": "text", "align": "left", "baseline": "middle", "dx": -11, "fontSize": 15},
      "encoding": {"x": {"field": "g", "type": "nominal", "bandPosition": 0, "axis": {"orient": "top", "title": "sensitivity", "titleX": 51, "titleY": -45.6, "titleAlign": "center", "titleFontSize": 17}}, "y": {"datum": 0.397, "type": "quantitative", "title": "Force (g) at paw withdrawal"}, "text": {"value": "P = 0.65"}}}
    ]},
   {"width": 69, "height": 1, "data": {"values": []}, "mark": "point"},
   {"width": 101, "height": 191, "resolve": {"axis": {"x": "independent"}},
    "layer": [
     {"data": {"name": "bars"}, "transform": [{"filter": "datum.p == 'G'"}],
      "mark": {"type": "bar", "fill": "white", "stroke": "black", "strokeWidth": 1.5},
      "encoding": {
       "x": {"field": "g", "type": "nominal", "scale": {"domain": ["WT","MUT"], "paddingInner": 0.536, "paddingOuter": 0.17, "align": 0.42},
             "axis": {"orient": "bottom", "title": null, "labelPadding": 4, "labelFontSize": 14, "labelLineHeight": 17, "labelExpr": "datum.value == 'WT' ? ['WT', '(N=15)'] : ['MUT', '(N=12)']", "labelColor": {"condition": {"test": "datum.value == 'MUT'", "value": "#e3262b"}, "value": "black"}}},
       "y": {"field": "mean", "type": "quantitative", "title": "#Paw licks /10 mins", "scale": {"domain": [0, 60]},
             "axis": {"values": [0, 20, 40, 60], "labelOverlap": false, "titleFontSize": 16.5, "titleX": -37, "titleY": 88, "titleBaseline": "middle"}}}},
     {"data": {"name": "pts"}, "transform": [{"filter": "datum.p == 'G'"}],
      "mark": {"type": "circle", "size": 40, "opacity": 1},
      "encoding": {"x": {"field": "g", "type": "nominal", "axis": {"orient": "top", "title": "G", "titleX": -44, "titleY": -28, "titleFontSize": 21, "titleFontWeight": "bold"}},
       "xOffset": {"field": "j", "type": "quantitative", "scale": {"domain": [-1.2, 1.2]}},
       "y": {"field": "v", "type": "quantitative", "title": "#Paw licks /10 mins"},
       "color": {"field": "g", "type": "nominal", "scale": {"domain": ["WT","MUT"], "range": ["#808080", "#e3262b"]}, "legend": null}}},
     {"data": {"name": "bars"}, "transform": [{"filter": "datum.p == 'G'"}],
      "mark": {"type": "errorbar", "ticks": true, "size": 14, "thickness": 1.5, "color": "black", "opacity": 1},
      "encoding": {"x": {"field": "g", "type": "nominal", "axis": {"orient": "top", "title": "Capsacin", "titleX": 0, "titleY": -32}},
       "y": {"field": "mean", "type": "quantitative", "title": "#Paw licks /10 mins"}, "yError": {"field": "sem"}}},
     {"data": {"name": "bars"}, "transform": [{"filter": "datum.p == 'G'"}],
      "mark": {"type": "text", "align": "left", "baseline": "middle", "dx": 2, "fontSize": 14},
      "encoding": {"x": {"field": "g", "type": "nominal", "bandPosition": 1, "axis": {"orient": "top", "title": "Chemical pain sensitivity", "titleX": 169, "titleY": -66.5, "titleAlign": "center", "titleFontSize": 17}},
       "y": {"field": "mean", "type": "quantitative", "title": "#Paw licks /10 mins"}, "text": {"field": "lab"}}},
     {"data": {"values": [{"g": "WT"}]}, "mark": {"type": "text", "align": "left", "baseline": "middle", "dx": 6, "fontSize": 15},
      "encoding": {"x": {"field": "g", "type": "nominal", "bandPosition": 0, "axis": null}, "y": {"datum": 59.4, "type": "quantitative", "title": "#Paw licks /10 mins"}, "text": {"value": "P = 0.47"}}}
    ]},
   {"width": 80, "height": 1, "data": {"values": []}, "mark": "point"},
   {"width": 361, "height": 191, "resolve": {"axis": {"x": "independent"}},
    "layer": [
     {"data": {"name": "hpts"}, "mark": {"type": "circle", "size": 16, "opacity": 1},
      "encoding": {
       "x": {"field": "m", "type": "quantitative", "scale": {"domain": [3, 62], "nice": false, "zero": false},
             "axis": {"orient": "bottom", "title": "Minutes", "values": [10, 20, 30, 40, 50, 60], "titleFontSize": 12, "labelFontSize": 13, "titlePadding": 2, "tickSize": 4}},
       "y": {"field": "v", "type": "quantitative", "title": "#Paw licks", "scale": {"domain": [0, 102.1]},
             "axis": {"values": [0, 20, 40, 60, 80, 100], "labelOverlap": false, "titleFontSize": 17, "titleX": -42, "titleY": 92, "titleBaseline": "middle"}},
       "color": {"field": "g", "type": "nominal", "scale": {"domain": ["WT","MUT"], "range": ["#808080", "#e3262b"]}, "legend": null}}},
     {"data": {"name": "hm"}, "mark": {"type": "line", "color": "black", "strokeWidth": 1.5},
      "encoding": {"x": {"field": "m", "type": "quantitative", "axis": {"orient": "top", "title": "H", "titleX": -31, "titleY": -27, "titleFontSize": 21, "titleFontWeight": "bold"}},
       "y": {"field": "mean", "type": "quantitative", "title": "#Paw licks", "scale": {"domain": [0, 102.1]}, "axis": {"values": [0, 20, 40, 60, 80, 100], "labelOverlap": false, "titleFontSize": 17, "titleX": -42, "titleY": 92, "titleBaseline": "middle"}}, "detail": {"field": "g", "type": "nominal"}}},
     {"data": {"name": "hm"}, "transform": [{"filter": "datum.sem != null"}],
      "mark": {"type": "errorbar", "ticks": true, "size": 6, "thickness": 1.5, "color": "black", "opacity": 1},
      "encoding": {"x": {"field": "m", "type": "quantitative", "axis": {"orient": "top", "title": "Formalin", "titleX": 83, "titleY": -29}},
       "y": {"field": "mean", "type": "quantitative", "title": "#Paw licks", "scale": {"domain": [0, 102.1]}, "axis": {"values": [0, 20, 40, 60, 80, 100], "labelOverlap": false, "titleFontSize": 17, "titleX": -42, "titleY": 92, "titleBaseline": "middle"}}, "yError": {"field": "sem"}}},
     {"data": {"values": [{}]}, "mark": {"type": "rule", "color": "black", "strokeWidth": 1.5},
      "encoding": {"x": {"datum": 4.75, "type": "quantitative", "axis": null}, "x2": {"datum": 14.9}, "y": {"datum": 103.7, "type": "quantitative", "title": "#Paw licks", "scale": {"domain": [0, 102.1]}, "axis": {"values": [0, 20, 40, 60, 80, 100], "labelOverlap": false, "titleFontSize": 17, "titleX": -42, "titleY": 92, "titleBaseline": "middle"}}}},
     {"data": {"values": [{}]}, "mark": {"type": "rule", "color": "black", "strokeWidth": 1.5},
      "encoding": {"x": {"datum": 17.7, "type": "quantitative", "axis": null}, "x2": {"datum": 61.1}, "y": {"datum": 103.7, "type": "quantitative", "title": "#Paw licks", "scale": {"domain": [0, 102.1]}, "axis": {"values": [0, 20, 40, 60, 80, 100], "labelOverlap": false, "titleFontSize": 17, "titleX": -42, "titleY": 92, "titleBaseline": "middle"}}}},
     {"data": {"values": [{}]}, "mark": {"type": "rule", "color": "black", "strokeWidth": 1.5},
      "encoding": {"x": {"datum": 4.75, "type": "quantitative", "axis": null}, "y": {"datum": 101.8, "type": "quantitative", "title": "#Paw licks", "scale": {"domain": [0, 102.1]}, "axis": {"values": [0, 20, 40, 60, 80, 100], "labelOverlap": false, "titleFontSize": 17, "titleX": -42, "titleY": 92, "titleBaseline": "middle"}}, "y2": {"datum": 105.6}}},
     {"data": {"values": [{}]}, "mark": {"type": "rule", "color": "black", "strokeWidth": 1.5},
      "encoding": {"x": {"datum": 14.9, "type": "quantitative", "axis": null}, "y": {"datum": 101.8, "type": "quantitative", "title": "#Paw licks", "scale": {"domain": [0, 102.1]}, "axis": {"values": [0, 20, 40, 60, 80, 100], "labelOverlap": false, "titleFontSize": 17, "titleX": -42, "titleY": 92, "titleBaseline": "middle"}}, "y2": {"datum": 105.6}}},
     {"data": {"values": [{}]}, "mark": {"type": "rule", "color": "black", "strokeWidth": 1.5},
      "encoding": {"x": {"datum": 17.7, "type": "quantitative", "axis": null}, "y": {"datum": 101.8, "type": "quantitative", "title": "#Paw licks", "scale": {"domain": [0, 102.1]}, "axis": {"values": [0, 20, 40, 60, 80, 100], "labelOverlap": false, "titleFontSize": 17, "titleX": -42, "titleY": 92, "titleBaseline": "middle"}}, "y2": {"datum": 105.6}}},
     {"data": {"values": [{}]}, "mark": {"type": "rule", "color": "black", "strokeWidth": 1.5},
      "encoding": {"x": {"datum": 61.1, "type": "quantitative", "axis": null}, "y": {"datum": 101.8, "type": "quantitative", "title": "#Paw licks", "scale": {"domain": [0, 102.1]}, "axis": {"values": [0, 20, 40, 60, 80, 100], "labelOverlap": false, "titleFontSize": 17, "titleX": -42, "titleY": 92, "titleBaseline": "middle"}}, "y2": {"datum": 105.6}}},
     {"data": {"values": [{}]}, "mark": {"type": "text", "align": "center", "baseline": "bottom", "dy": -2, "fontSize": 15},
      "encoding": {"x": {"datum": 9.8, "type": "quantitative", "axis": null}, "y": {"datum": 103.7, "type": "quantitative", "title": "#Paw licks", "scale": {"domain": [0, 102.1]}, "axis": {"values": [0, 20, 40, 60, 80, 100], "labelOverlap": false, "titleFontSize": 17, "titleX": -42, "titleY": 92, "titleBaseline": "middle"}}, "text": {"value": "Phase I"}}},
     {"data": {"values": [{}]}, "mark": {"type": "text", "align": "center", "baseline": "bottom", "dy": -2, "fontSize": 15},
      "encoding": {"x": {"datum": 39.4, "type": "quantitative", "axis": null}, "y": {"datum": 103.7, "type": "quantitative", "title": "#Paw licks", "scale": {"domain": [0, 102.1]}, "axis": {"values": [0, 20, 40, 60, 80, 100], "labelOverlap": false, "titleFontSize": 17, "titleX": -42, "titleY": 92, "titleBaseline": "middle"}}, "text": {"value": "Phase II"}}},
     {"data": {"values": [{}]}, "mark": {"type": "text", "align": "left", "baseline": "middle", "fontSize": 15},
      "encoding": {"x": {"datum": 3.8, "type": "quantitative", "axis": null}, "y": {"datum": 95.7, "type": "quantitative", "title": "#Paw licks", "scale": {"domain": [0, 102.1]}, "axis": {"values": [0, 20, 40, 60, 80, 100], "labelOverlap": false, "titleFontSize": 17, "titleX": -42, "titleY": 92, "titleBaseline": "middle"}}, "text": {"value": "P = 0.55"}}},
     {"data": {"values": [{}]}, "mark": {"type": "text", "align": "left", "baseline": "middle", "fontSize": 15},
      "encoding": {"x": {"datum": 38.7, "type": "quantitative", "axis": null}, "y": {"datum": 96.4, "type": "quantitative", "title": "#Paw licks", "scale": {"domain": [0, 102.1]}, "axis": {"values": [0, 20, 40, 60, 80, 100], "labelOverlap": false, "titleFontSize": 17, "titleX": -42, "titleY": 92, "titleBaseline": "middle"}}, "text": {"value": "P = "}}},
     {"data": {"values": [{}]}, "mark": {"type": "text", "align": "left", "baseline": "middle", "dx": 27, "fontSize": 15, "color": "#e3262b"},
      "encoding": {"x": {"datum": 38.7, "type": "quantitative", "axis": null}, "y": {"datum": 96.4, "type": "quantitative", "title": "#Paw licks", "scale": {"domain": [0, 102.1]}, "axis": {"values": [0, 20, 40, 60, 80, 100], "labelOverlap": false, "titleFontSize": 17, "titleX": -42, "titleY": 92, "titleBaseline": "middle"}}, "text": {"value": "0.0002"}}},
     {"data": {"values": [{}]}, "mark": {"type": "text", "align": "center", "baseline": "middle", "fontSize": 14},
      "encoding": {"x": {"datum": 20.7, "type": "quantitative", "axis": null}, "y": {"datum": 87.5, "type": "quantitative", "title": "#Paw licks", "scale": {"domain": [0, 102.1]}, "axis": {"values": [0, 20, 40, 60, 80, 100], "labelOverlap": false, "titleFontSize": 17, "titleX": -42, "titleY": 92, "titleBaseline": "middle"}}, "text": {"value": "*"}}},
     {"data": {"values": [{}]}, "mark": {"type": "text", "align": "center", "baseline": "middle", "fontSize": 14},
      "encoding": {"x": {"datum": 30.3, "type": "quantitative", "axis": null}, "y": {"datum": 95.5, "type": "quantitative", "title": "#Paw licks", "scale": {"domain": [0, 102.1]}, "axis": {"values": [0, 20, 40, 60, 80, 100], "labelOverlap": false, "titleFontSize": 17, "titleX": -42, "titleY": 92, "titleBaseline": "middle"}}, "text": {"value": "**"}}},
     {"data": {"values": [{}]}, "mark": {"type": "text", "align": "center", "baseline": "middle", "fontSize": 14},
      "encoding": {"x": {"datum": 40.7, "type": "quantitative", "axis": null}, "y": {"datum": 86.7, "type": "quantitative", "title": "#Paw licks", "scale": {"domain": [0, 102.1]}, "axis": {"values": [0, 20, 40, 60, 80, 100], "labelOverlap": false, "titleFontSize": 17, "titleX": -42, "titleY": 92, "titleBaseline": "middle"}}, "text": {"value": "*"}}},
     {"data": {"values": [{}]}, "mark": {"type": "text", "align": "left", "baseline": "middle", "fontSize": 15},
      "encoding": {"x": {"datum": 49.2, "type": "quantitative", "axis": null}, "y": {"datum": 81.3, "type": "quantitative", "title": "#Paw licks", "scale": {"domain": [0, 102.1]}, "axis": {"values": [0, 20, 40, 60, 80, 100], "labelOverlap": false, "titleFontSize": 17, "titleX": -42, "titleY": 92, "titleBaseline": "middle"}}, "text": {"value": "WT (N=12)"}}},
     {"data": {"values": [{}]}, "mark": {"type": "text", "align": "left", "baseline": "middle", "fontSize": 15, "color": "#e3262b"},
      "encoding": {"x": {"datum": 49.2, "type": "quantitative", "axis": null}, "y": {"datum": 71.6, "type": "quantitative", "title": "#Paw licks", "scale": {"domain": [0, 102.1]}, "axis": {"values": [0, 20, 40, 60, 80, 100], "labelOverlap": false, "titleFontSize": 17, "titleX": -42, "titleY": 92, "titleBaseline": "middle"}}, "text": {"value": "MUT (N=12)"}}}
    ]}
  ]}
 ]},
 {"bounds": "flush", "spacing": 0, "hconcat": [
  {"width": 347, "height": 198, "resolve": {"axis": {"x": "independent"}},
   "layer": [
    {"data": {"name": "ibars"}, "mark": {"type": "bar", "fill": "white", "strokeWidth": 1.5},
     "encoding": {
      "x": {"field": "t", "type": "nominal", "scale": {"domain": ["1","2","3","4","5","6","7","8"], "paddingInner": 0.46, "paddingOuter": 0.1375},
            "axis": {"orient": "bottom", "title": "Trials", "ticks": false, "labelPadding": 4, "titleFontSize": 15, "titlePadding": 2}},
      "xOffset": {"field": "g", "type": "nominal", "scale": {"domain": ["WT","MUT"], "paddingInner": 0.33}},
      "y": {"field": "mean", "type": "quantitative", "title": "Time (sec) to fall", "scale": {"domain": [0, 300]},
            "axis": {"values": [0, 150, 300], "labelOverlap": false, "titleFontSize": 17, "titleX": -35, "titleY": 90, "titleBaseline": "middle"}},
      "stroke": {"field": "g", "type": "nominal", "scale": {"domain": ["WT","MUT"], "range": ["black", "#e3262b"]}, "legend": null}}},
    {"data": {"name": "ibars"}, "mark": {"type": "errorbar", "ticks": true, "size": 7, "thickness": 1.5, "opacity": 1},
     "encoding": {"x": {"field": "t", "type": "nominal", "axis": {"orient": "top", "title": "I", "titleX": -26, "titleY": -15, "titleFontSize": 21, "titleFontWeight": "bold"}},
      "xOffset": {"field": "g", "type": "nominal"},
      "y": {"field": "mean", "type": "quantitative", "title": "Time (sec) to fall"}, "yError": {"field": "sem"},
      "color": {"field": "g", "type": "nominal", "scale": {"domain": ["WT","MUT"], "range": ["black", "#e3262b"]}, "legend": null}}},
    {"data": {"values": [{"t": "1"}]}, "mark": {"type": "text", "align": "left", "baseline": "middle", "fontSize": 15},
     "encoding": {"x": {"field": "t", "type": "nominal", "bandPosition": 0, "axis": {"orient": "top", "title": "Rotor Rod", "titleX": 1, "titleY": -13}}, "y": {"datum": 292.4, "type": "quantitative", "title": "Time (sec) to fall"}, "text": {"value": "P = 0.64"}}},
    {"data": {"values": [{"t": "4"}]}, "mark": {"type": "text", "align": "left", "baseline": "middle", "dx": 35, "fontSize": 15},
     "encoding": {"x": {"field": "t", "type": "nominal", "bandPosition": 0, "axis": {"orient": "top", "title": "Balance/Motor function", "titleX": 347, "titleY": -48, "titleAlign": "center", "titleFontSize": 17}}, "y": {"datum": 292.4, "type": "quantitative", "title": "Time (sec) to fall"}, "text": {"value": "WT (N=21)"}}},
    {"data": {"values": [{"t": "4"}]}, "mark": {"type": "text", "align": "left", "baseline": "middle", "dx": 35, "fontSize": 15, "color": "#e3262b"},
     "encoding": {"x": {"field": "t", "type": "nominal", "bandPosition": 0, "axis": null}, "y": {"datum": 264.7, "type": "quantitative", "title": "Time (sec) to fall"}, "text": {"value": "MUT (N=20)"}}}
   ]},
  {"width": 71, "height": 1, "data": {"values": []}, "mark": "point"},
  {"width": 337, "height": 198, "resolve": {"axis": {"x": "independent"}},
   "layer": [
    {"data": {"name": "jbars"}, "transform": [{"filter": "datum.g == 'WT'"}], "mark": {"type": "bar", "fill": "white", "strokeWidth": 1.5},
     "encoding": {
      "x": {"field": "k", "type": "nominal", "scale": {"domain": ["18 mm|1","18 mm|2","18 mm|3","11 mm|1","11 mm|2","11 mm|3","5 mm|1","5 mm|2","5 mm|3"], "paddingInner": 0.47, "paddingOuter": 0.2},
            "axis": {"orient": "bottom", "title": null, "ticks": false, "labelPadding": 7, "labelExpr": "split(datum.value, '|')[1]"}},
      "xOffset": {"field": "g", "type": "nominal", "scale": {"domain": ["WT","MUT"], "paddingInner": 0.2}},
      "y": {"field": "mean", "type": "quantitative", "title": "Latency (sec) to cross", "scale": {"domain": [0, 101.54]},
            "axis": {"values": [0, 50, 100], "labelOverlap": false, "titleFontSize": 16.5, "titleX": -40, "titleY": 102, "titleBaseline": "middle"}},
      "stroke": {"field": "g", "type": "nominal", "scale": {"domain": ["WT","MUT"], "range": ["black", "#e3262b"]}, "legend": null}}},
    {"data": {"name": "jbars"}, "transform": [{"filter": "datum.g == 'MUT'"}], "mark": {"type": "bar", "fill": "white", "strokeWidth": 1.5},
     "encoding": {
      "x": {"field": "k", "type": "nominal",
            "axis": {"orient": "bottom", "title": null, "labels": false, "domain": false, "ticks": true, "tickSize": 22, "bandPosition": -0.44, "values": ["18 mm|1", "11 mm|1", "5 mm|1"]}},
      "xOffset": {"field": "g", "type": "nominal"},
      "y": {"field": "mean", "type": "quantitative", "title": "Latency (sec) to cross"},
      "stroke": {"field": "g", "type": "nominal", "legend": null}}},
    {"data": {"name": "jbars"}, "mark": {"type": "errorbar", "ticks": true, "size": 6, "thickness": 1.5, "opacity": 1},
     "encoding": {"x": {"field": "k", "type": "nominal",
            "axis": {"orient": "bottom", "title": null, "labels": true, "domain": false, "ticks": false, "labelPadding": 26, "labelFontSize": 14, "values": ["18 mm|2", "11 mm|2", "5 mm|2"], "labelExpr": "split(datum.value, '|')[0]"}},
      "xOffset": {"field": "g", "type": "nominal"},
      "y": {"field": "mean", "type": "quantitative", "title": "Latency (sec) to cross"}, "yError": {"field": "sem"},
      "color": {"field": "g", "type": "nominal", "scale": {"domain": ["WT","MUT"], "range": ["black", "#e3262b"]}, "legend": null}}},
    {"data": {"values": [{"k": "18 mm|1"}]}, "mark": {"type": "text", "align": "left", "baseline": "middle", "dx": -3, "fontSize": 15},
     "encoding": {"x": {"field": "k", "type": "nominal", "bandPosition": 0, "axis": {"orient": "top", "title": "J", "titleX": -39, "titleY": -14, "titleFontSize": 21, "titleFontWeight": "bold"}}, "y": {"datum": 96.9, "type": "quantitative", "title": "Latency (sec) to cross"}, "text": {"value": "P = 0.89"}}},
    {"data": {"values": [{"k": "11 mm|2"}]}, "mark": {"type": "text", "align": "left", "baseline": "middle", "dx": 2, "fontSize": 15},
     "encoding": {"x": {"field": "k", "type": "nominal", "bandPosition": 0, "axis": {"orient": "top", "title": "Balance Beam", "titleX": 2, "titleY": -13}}, "y": {"datum": 99, "type": "quantitative", "title": "Latency (sec) to cross"}, "text": {"value": "WT (N=16)"}}},
    {"data": {"values": [{"k": "11 mm|2"}]}, "mark": {"type": "text", "align": "left", "baseline": "middle", "dx": 2, "fontSize": 15, "color": "#e3262b"},
     "encoding": {"x": {"field": "k", "type": "nominal", "bandPosition": 0, "axis": null}, "y": {"datum": 89.6, "type": "quantitative", "title": "Latency (sec) to cross"}, "text": {"value": "MUT (N=16)"}}}
   ]}
 ]}
]
}
